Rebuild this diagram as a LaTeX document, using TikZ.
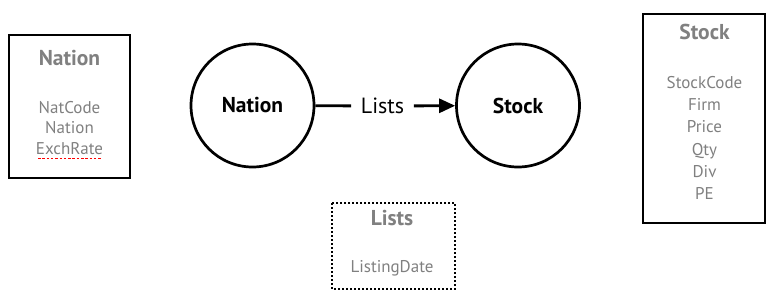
\documentclass[tikz,border=0pt]{standalone}
\usepackage{fontspec}
\setmainfont{PT Sans}
\usetikzlibrary{arrows.meta}
\definecolor{attrgray}{HTML}{808080}
\tikzset{
  entity/.style={circle, draw, line width=2.7pt, minimum size=123pt, inner sep=0pt, font=\fontsize{21.5}{24}\selectfont\bfseries},
  tablebox/.style={draw, line width=2.7pt},
  title/.style={text=attrgray, font=\fontsize{21.5}{24}\selectfont\bfseries},
  attr/.style={text=attrgray, font=\fontsize{17}{20.5}\selectfont, align=center}
}
\begin{document}
\begin{tikzpicture}[x=1pt,y=-1pt]
\useasboundingbox (0,0) rectangle (773,300);
% Nation table
\draw[tablebox] (9,35) rectangle (130,178);
\node[title] (nattitle) at (69.5,58) {Nation};
\node[attr] (natattr) at (69.5,128) {NatCode\\Nation\\ExchRate};
\draw[red, line width=1.6pt, dash pattern=on 2.5pt off 1.8pt] (38,158.5) -- (102,158.5);

% entities and relationship
\node[entity] (nation) at (252.5,105.5) {Nation};
\node[entity] (stock) at (518,105.5) {Stock};
\node[font=\fontsize{22}{24}\selectfont, inner sep=9.5pt] (lists) at (382.5,106) {Lists};
\draw[line width=2.8pt] (nation) -- (lists);
\draw[line width=2.8pt, -{Triangle[length=16pt,width=14pt]}] (lists) -- (stock);

% Lists table
\draw[dotted, line width=2pt] (332,203) rectangle (455,289);
\node[title] (liststitle) at (392,218) {Lists};
\node[attr] (listsattr) at (392,268) {ListingDate};

% Stock table
\draw[tablebox] (643,14) rectangle (765,223);
\node[title] (stocktitle) at (704.5,32) {Stock};
\node[attr, font=\fontsize{17}{22.2}\selectfont] (stockattr) at (704.5,138) {StockCode\\Firm\\Price\\Qty\\Div\\PE};
\end{tikzpicture}
\end{document}
